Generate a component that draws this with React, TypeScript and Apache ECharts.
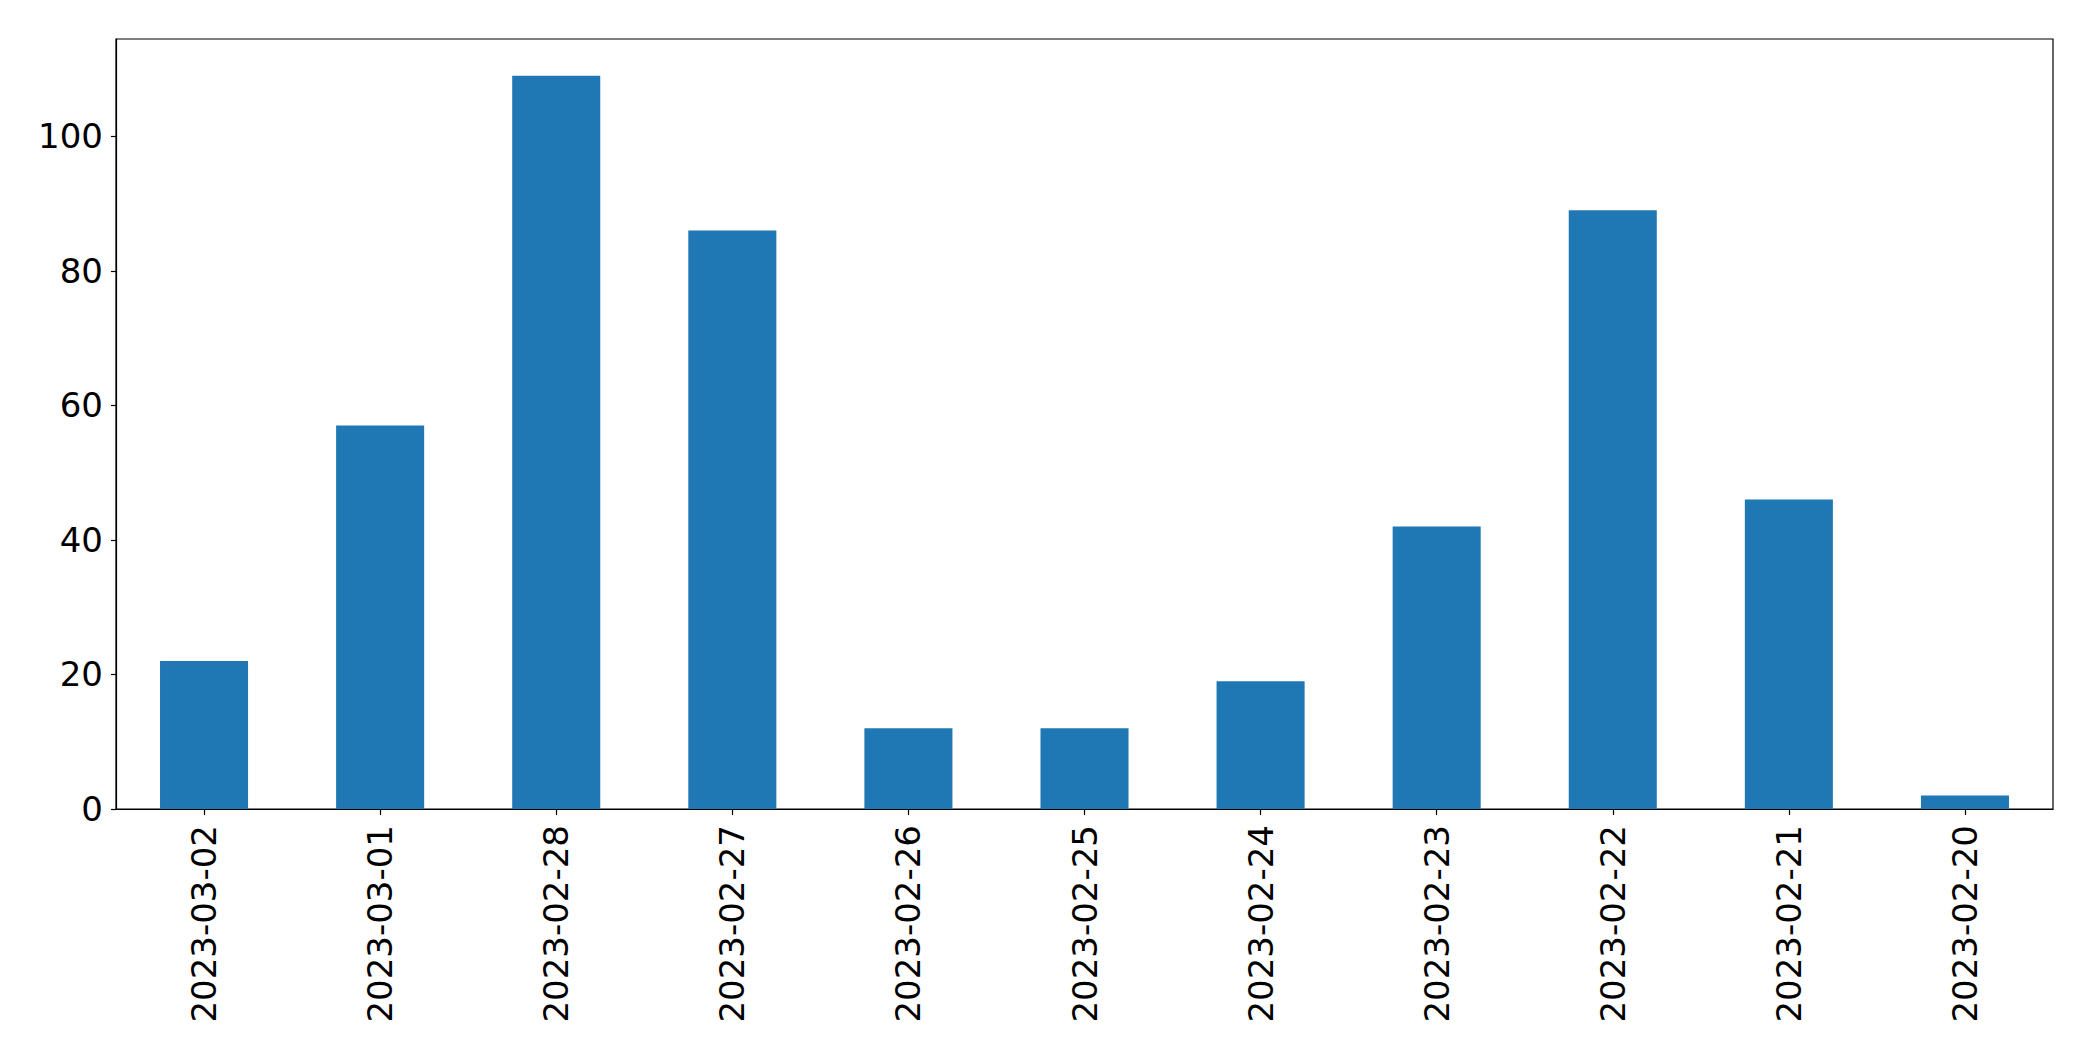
import React, { useEffect, useRef } from "react";
import * as echarts from "echarts";

const categories = [
  "2023-03-02",
  "2023-03-01",
  "2023-02-28",
  "2023-02-27",
  "2023-02-26",
  "2023-02-25",
  "2023-02-24",
  "2023-02-23",
  "2023-02-22",
  "2023-02-21",
  "2023-02-20",
];
const values = [22, 57, 109, 86, 12, 12, 19, 42, 89, 46, 2];
const yTicks = [0, 20, 40, 60, 80, 100];
const yMax = 114.45;

export default function App() {
  const ref = useRef<HTMLDivElement>(null);
  useEffect(() => {
    if (!ref.current) return;
    const chart = echarts.init(ref.current, null, { renderer: "svg" });
    const font = "DejaVu Sans";
    chart.setOption({
      animation: false,
      backgroundColor: "#ffffff",
      grid: {
        left: 116,
        top: 39,
        right: 40,
        bottom: 252,
        show: true,
        borderColor: "#000000",
        borderWidth: 1.2,
        containLabel: false,
      },
      xAxis: {
        type: "category",
        data: categories,
        boundaryGap: true,
        axisLine: { show: true, lineStyle: { color: "#000000", width: 1.2 } },
        axisTick: {
          show: true,
          alignWithLabel: true,
          length: 6,
          lineStyle: { color: "#000000", width: 1.2 },
        },
        axisLabel: {
          rotate: 90,
          margin: 16,
          fontFamily: font,
          fontSize: 34,
          color: "#000000",
        },
        splitLine: { show: false },
      },
      yAxis: {
        type: "value",
        min: 0,
        max: yMax,
        axisLine: { show: true, lineStyle: { color: "#000000", width: 1.2 } },
        axisTick: {
          show: true,
          length: 5,
          customValues: yTicks,
          lineStyle: { color: "#000000", width: 1.2 },
        },
        axisLabel: {
          margin: 13,
          customValues: yTicks,
          fontFamily: font,
          fontSize: 34,
          color: "#000000",
        },
        splitLine: { show: false },
      },
      series: [
        {
          type: "bar",
          data: values,
          barWidth: "50%",
          itemStyle: { color: "#1f77b4" },
        },
      ],
    });
    return () => chart.dispose();
  }, []);
  return (
    <div
      ref={ref}
      style={{ position: "absolute", left: 0, top: 0, width: 2093, height: 1061 }}
    />
  );
}
